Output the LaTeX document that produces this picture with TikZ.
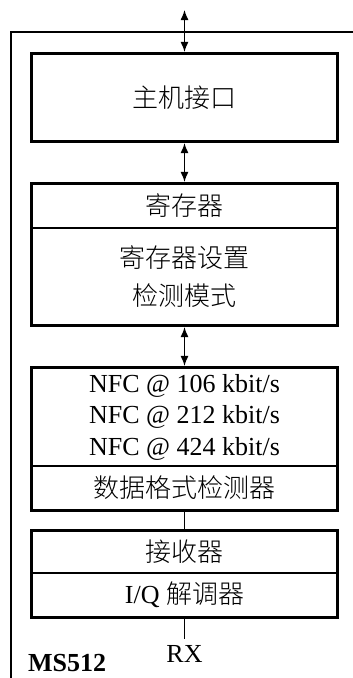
\documentclass[tikz,border=0pt]{standalone}
\usepackage{fontspec}
\setmainfont{Liberation Serif}
\newfontfamily\cjk{Noto Sans CJK SC}[UprightFont=* Light]
\usetikzlibrary{arrows.meta,fit}
\begin{document}
\begin{tikzpicture}[x=1pt,y=-1pt,
  part/.style={draw,line width=1.5pt,minimum width=305pt,inner sep=0pt,align=center,
    font=\fontsize{26}{31.5}\selectfont},
  outerbox/.style={draw,line width=2.6pt,inner sep=0pt},
  link/.style={line width=1.3pt,{Latex[length=10pt,width=8pt]}-{Latex[length=10pt,width=8pt]}},
  plain/.style={line width=1.3pt}]
\useasboundingbox (0,0) rectangle (353,678);
\draw[line width=2.6pt] (354,32) -- (11,32) -- (11,680);
% host
\node[part,minimum height=87pt] (host) at (184.5,97.5) {\cjk 主机接口};
\node[outerbox,fit=(host)] (hostb) {};
% register
\node[part,minimum height=44pt] (regT) at (184.5,206) {\cjk 寄存器};
\node[part,minimum height=97pt,font=\fontsize{26}{38}\selectfont] (regS) at (184.5,276.5) {\cjk 寄存器设置\\\cjk 检测模式};
\node[outerbox,fit=(regT)(regS)] (reg) {};
% nfc
\node[part,minimum height=98pt] (nfc) at (184.5,417) {NFC @ 106 kbit/s\\NFC @ 212 kbit/s\\NFC @ 424 kbit/s};
\node[part,minimum height=44pt] (fmt) at (184.5,488) {\cjk 数据格式检测器};
\node[outerbox,fit=(nfc)(fmt)] (nfcb) {};
% receiver
\node[part,minimum height=42pt] (rx) at (184.5,552) {\cjk 接收器};
\node[part,minimum height=44pt] (iq) at (184.5,595) {I/Q {\cjk 解调器}};
\node[outerbox,fit=(rx)(iq)] (rxb) {};
% connectors
\coordinate (top) at (184.5,10);
\coordinate (rxend) at (184.5,639);
\draw[link] (top) -- (hostb.north);
\draw[link] (hostb.south) -- (reg.north);
\draw[link] (reg.south) -- (nfcb.north);
\draw[plain] (nfcb.south) -- (rxb.north);
\draw[plain] (rxb.south) -- (rxend);
\node[font=\fontsize{26}{30}\selectfont] (rxl) at (184.5,654) {RX};
\node[font=\fontsize{26}{30}\selectfont\bfseries,anchor=west,inner sep=0pt] (chip) at (28,663) {MS512};
\end{tikzpicture}
\end{document}
